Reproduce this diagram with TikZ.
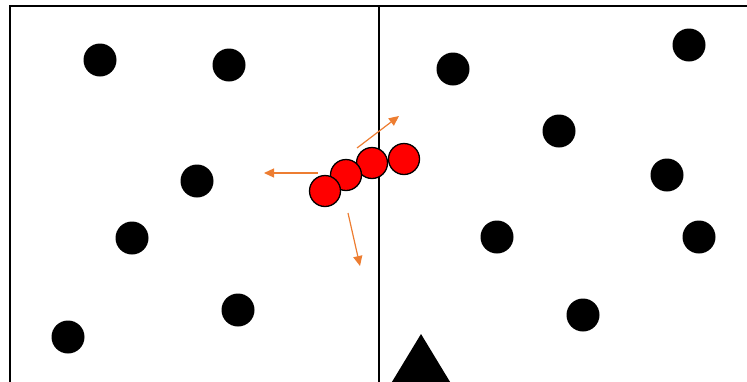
\documentclass[tikz,border=0pt]{standalone}
\usetikzlibrary{arrows.meta}
\definecolor{arrorange}{HTML}{ED7D31}
\begin{document}
\begin{tikzpicture}[x=1pt,y=-1pt,
  dot/.style={circle,fill=black,minimum size=33pt,inner sep=0pt},
  redball/.style={circle,fill=red,draw=black,line width=1.3pt,minimum size=31pt,inner sep=0pt},
  motion/.style={draw=arrorange,line width=1.2pt,-{Triangle[length=10pt,width=9pt]}},
  wall/.style={line width=2pt,draw=black}]
\useasboundingbox (0,0) rectangle (747,381);
\begin{scope}
\clip (0,0) rectangle (747,381);
\draw[wall] (10,400) -- (10,5.5) -- (760,5.5);
\draw[wall] (379,5.5) -- (379,400);
\fill (421,334) -- (461,400) -- (381,400) -- cycle;
\node[dot] (d1) at (100,60) {};
\node[dot] (d2) at (229,65) {};
\node[dot] (d3) at (197,181) {};
\node[dot] (d4) at (132,238) {};
\node[dot] (d5) at (68,337) {};
\node[dot] (d6) at (238,310) {};
\node[dot] (d7) at (453,69) {};
\node[dot] (d8) at (689,45) {};
\node[dot] (d9) at (559,131) {};
\node[dot] (d10) at (667,175) {};
\node[dot] (d11) at (497,237) {};
\node[dot] (d12) at (699,237) {};
\node[dot] (d13) at (583,315) {};
\node[redball] (r4) at (404,159) {};
\node[redball] (r3) at (372,163) {};
\node[redball] (r2) at (346,175) {};
\node[redball] (r1) at (325,191) {};
\coordinate (a1s) at (318,173);
\coordinate (a1e) at (264,173);
\coordinate (a2s) at (357,148);
\coordinate (a2e) at (399,116);
\coordinate (a3s) at (348,213);
\coordinate (a3e) at (360,266);
\draw[motion] (a1s) -- (a1e);
\draw[motion] (a2s) -- (a2e);
\draw[motion] (a3s) -- (a3e);
\end{scope}
\end{tikzpicture}
\end{document}
